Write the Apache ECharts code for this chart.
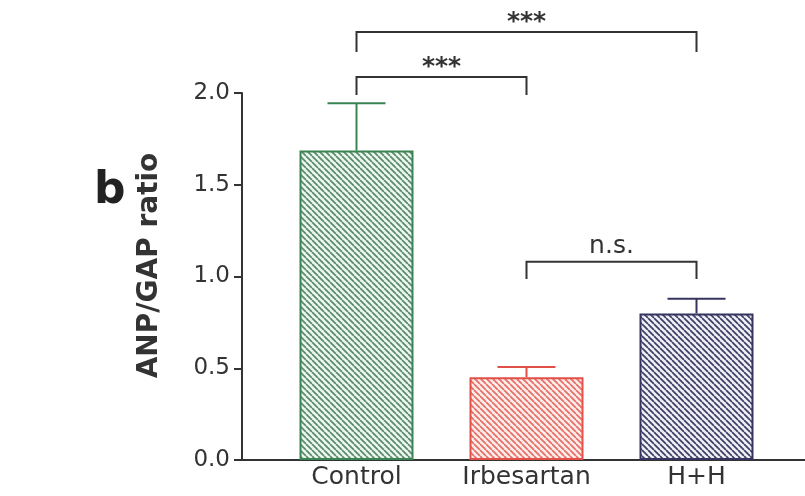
<!DOCTYPE html>
<html>
<head>
<meta charset="utf-8">
<script src="https://cdn.jsdelivr.net/npm/echarts@6/dist/echarts.min.js"></script>
<style>
  html, body { margin: 0; padding: 0; background: #fff; }
  #chart { width: 805px; height: 496px; }
</style>
</head>
<body>
<div id="chart"></div>
<script>
// data
const categories = ['Control', 'Irbesartan', 'H+H'];
const means = [1.686, 0.451, 0.799];
const sems = [0.258, 0.056, 0.080];
const yTicks = [0.0, 0.5, 1.0, 1.5, 2.0];
// significance brackets: from bar, to bar, bracket level, leg end, label
const bracketFrom = [0, 0, 1];
const bracketTo = [2, 1, 2];
const bracketLevel = [2.332, 2.087, 1.081];
const bracketLegEnd = [2.223, 1.989, 0.986];
const bracketLabels = ['***', '***', 'n.s.'];

// styling
const edgeColors = ['#3a8353', '#e2504a', '#34345e'];
const hatchColors = ['#5b8a6b', '#e56f66', '#3e3e66'];
const fillColors = ['#eaf6ee', '#fdecea', '#eeeef4'];
const ink = '#333';
const font = 'DejaVu Sans';

function hatch(bg, fg) {
  const s = 6;
  const c = document.createElement('canvas');
  c.width = s; c.height = s;
  const g = c.getContext('2d');
  g.fillStyle = bg;
  g.fillRect(0, 0, s, s);
  g.strokeStyle = fg;
  g.lineWidth = 1.7;
  g.beginPath();
  for (let k = -1; k <= 1; k++) {
    g.moveTo(k * s, 0);
    g.lineTo(k * s + s, s);
  }
  g.stroke();
  return c;
}

const chart = echarts.init(document.getElementById('chart'));

chart.setOption({
  animation: false,
  backgroundColor: '#fff',
  graphic: [{
    type: 'text', left: 94, top: 170,
    style: { text: 'b', font: 'bold 44px "DejaVu Sans"', fill: '#222' }
  }],
  grid: [
    { left: 242, right: 0, top: 93, bottom: 36 },
    { left: 271.5, width: 510, top: 93, bottom: 36 }
  ],
  xAxis: [
    {
      gridIndex: 0, type: 'category', data: [''],
      axisLine: { lineStyle: { color: ink, width: 2 } },
      axisTick: { show: false }, axisLabel: { show: false }
    },
    {
      gridIndex: 1, type: 'category', data: categories,
      axisLine: { show: false }, axisTick: { show: false },
      axisLabel: { fontSize: 25, fontFamily: font, color: ink, margin: 5 }
    }
  ],
  yAxis: [
    {
      gridIndex: 0, type: 'value',
      min: yTicks[0], max: yTicks[yTicks.length - 1], interval: yTicks[1] - yTicks[0],
      axisLine: { show: true, lineStyle: { color: ink, width: 2 } },
      axisTick: { show: true, length: 8, lineStyle: { color: ink, width: 2 } },
      splitLine: { show: false },
      axisLabel: { formatter: v => v.toFixed(1), fontSize: 23, fontFamily: font, color: ink, margin: 12 },
      name: 'ANP/GAP ratio', nameLocation: 'middle', nameGap: 78,
      nameTextStyle: { fontSize: 28, fontWeight: 'bold', fontFamily: font, color: ink, padding: [0, 0, 0, 22] }
    },
    {
      gridIndex: 1, type: 'value',
      min: yTicks[0], max: yTicks[yTicks.length - 1], show: false
    }
  ],
  series: [
    {
      type: 'bar', xAxisIndex: 1, yAxisIndex: 1, barWidth: 114,
      data: means.map((v, i) => ({
        value: v,
        itemStyle: {
          color: { image: hatch(fillColors[i], hatchColors[i]), repeat: 'repeat' },
          borderColor: edgeColors[i], borderWidth: 2
        }
      }))
    },
    {
      type: 'custom', xAxisIndex: 1, yAxisIndex: 1, clip: false,
      data: means.map((v, i) => [i, v, v + sems[i]]),
      renderItem(params, api) {
        const base = api.coord([api.value(0), api.value(1)]);
        const top = api.coord([api.value(0), api.value(2)]);
        const c = edgeColors[params.dataIndex];
        const half = 29;
        return {
          type: 'group',
          children: [
            { type: 'line', shape: { x1: base[0], y1: base[1], x2: top[0], y2: top[1] }, style: { stroke: c, lineWidth: 2 } },
            { type: 'line', shape: { x1: top[0] - half, y1: top[1], x2: top[0] + half, y2: top[1] }, style: { stroke: c, lineWidth: 2 } }
          ]
        };
      }
    },
    {
      type: 'custom', xAxisIndex: 1, yAxisIndex: 1, clip: false,
      data: bracketLevel.map((lv, i) => [bracketFrom[i], lv, bracketTo[i], bracketLegEnd[i]]),
      renderItem(params, api) {
        const i = params.dataIndex;
        const a = api.coord([bracketFrom[i], bracketLevel[i]]);
        const b = api.coord([bracketTo[i], bracketLevel[i]]);
        const legY = api.coord([bracketFrom[i], bracketLegEnd[i]])[1];
        const label = bracketLabels[i];
        const stars = label === '***';
        return {
          type: 'group',
          children: [
            {
              type: 'polyline',
              shape: { points: [[a[0], legY], [a[0], a[1]], [b[0], b[1]], [b[0], legY]] },
              style: { stroke: ink, lineWidth: 2, fill: null }
            },
            {
              type: 'text', x: (a[0] + b[0]) / 2, y: a[1] + (stars ? 3 : -3),
              style: {
                text: label, align: 'center', verticalAlign: 'bottom', fill: ink,
                font: (stars ? 'bold ' : '') + '25px "DejaVu Sans"'
              }
            }
          ]
        };
      }
    }
  ]
});
</script>
</body>
</html>
